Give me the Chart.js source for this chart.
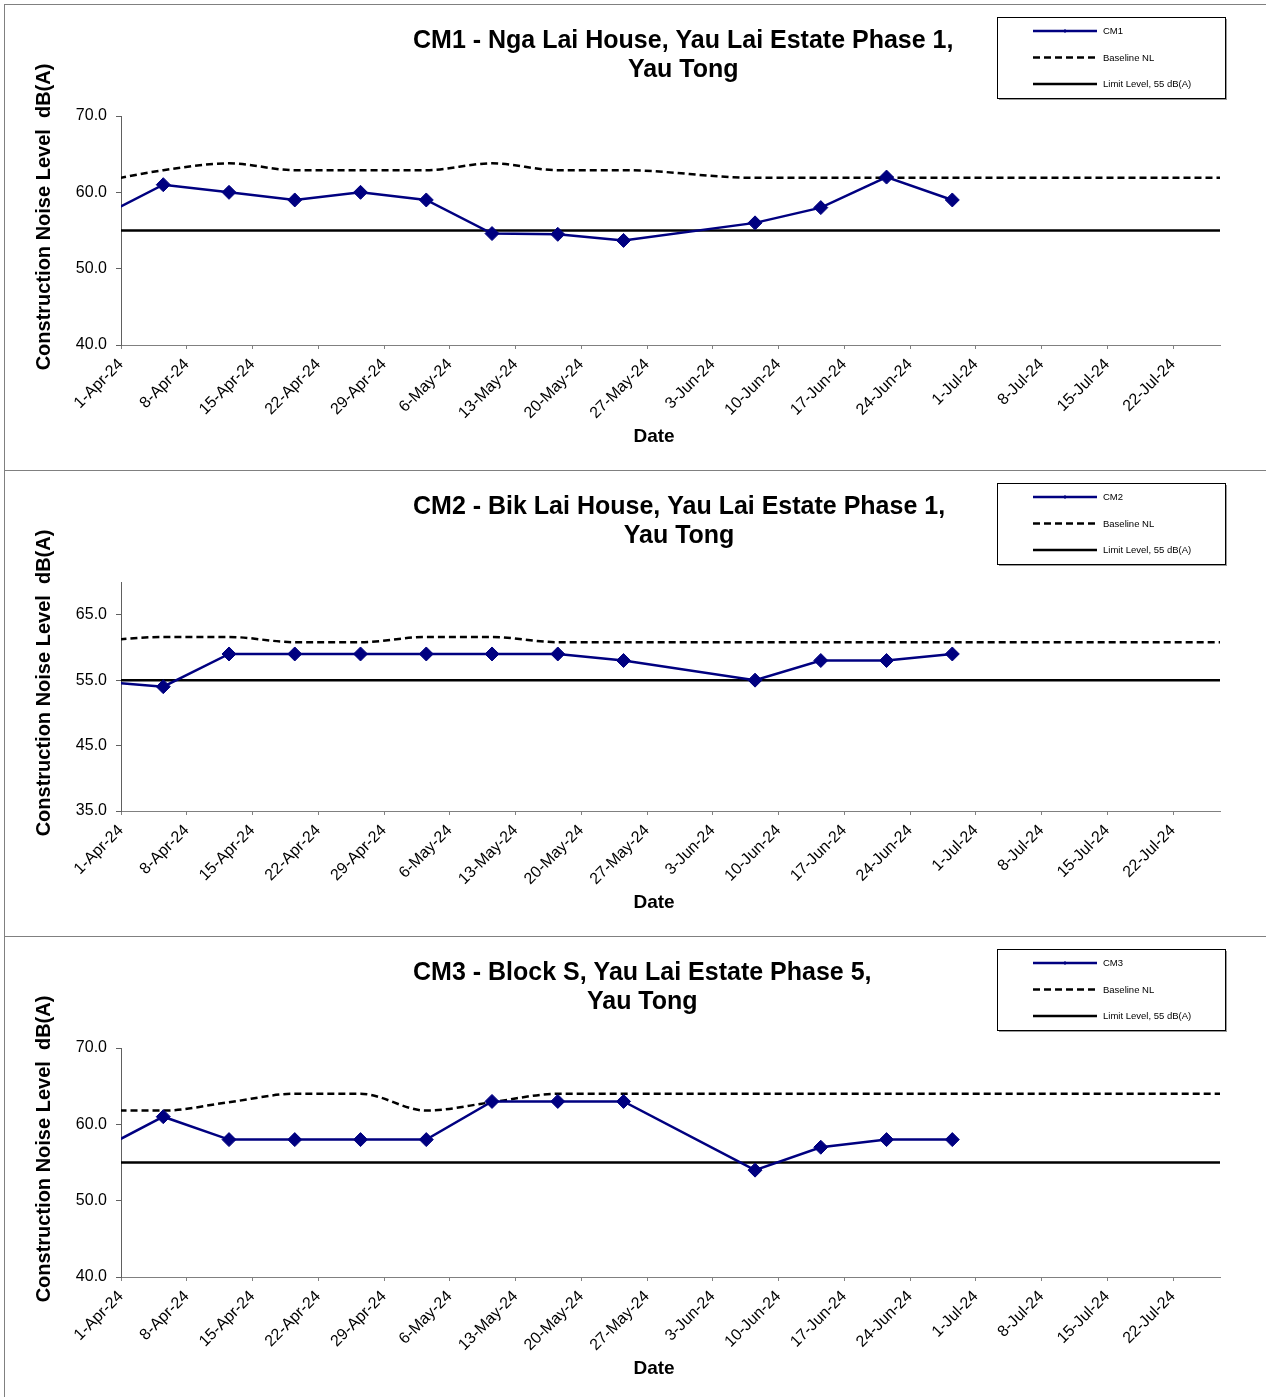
<!DOCTYPE html>
<html>
<head>
<meta charset="utf-8">
<script src="https://cdn.jsdelivr.net/npm/chart.js@4.4.1/dist/chart.umd.min.js"></script>
<style>
    body { margin: 0; background: #fff; }
    #wrap { position: absolute; left: 4px; top: 4px; width: 1262px; border-left: 1px solid #808080; }
    .panel { border-top: 1px solid #808080; height: 465px; }
    .panel canvas { display: block; }
</style>
</head>
<body>
<div id="wrap">
    <div class="panel"><canvas id="chartCM1" width="1261" height="465"></canvas></div>
    <div class="panel"><canvas id="chartCM2" width="1261" height="465"></canvas></div>
    <div class="panel"><canvas id="chartCM3" width="1261" height="465"></canvas></div>
</div>
<script>
// ---- data ----
const axisStart = '2024-04-01';
const axisEnd = '2024-07-27';

const tickLabels = ['1-Apr-24', '8-Apr-24', '15-Apr-24', '22-Apr-24', '29-Apr-24', '6-May-24',
    '13-May-24', '20-May-24', '27-May-24', '3-Jun-24', '10-Jun-24', '17-Jun-24', '24-Jun-24',
    '1-Jul-24', '8-Jul-24', '15-Jul-24', '22-Jul-24'];

const sampleDates = ['2024-03-29', '2024-04-05', '2024-04-12', '2024-04-19', '2024-04-26',
    '2024-05-03', '2024-05-10', '2024-05-17', '2024-05-24', '2024-05-31', '2024-06-07',
    '2024-06-14', '2024-06-21', '2024-06-28', '2024-07-05', '2024-07-12', '2024-07-19',
    '2024-07-26', '2024-08-02'];

const limitLevel = 55;

const cm1Level    = [56.6, 61.0, 60.0, 59.0, 60.0, 59.0, 54.6, 54.5, 53.7, null, 56.0, 58.0, 62.0, 59.0, null, null, null, null, null];
const cm1Baseline = [61.3, 62.9, 63.8, 62.9, 62.9, 62.9, 63.8, 62.9, 62.9, null, 61.9, 61.9, 61.9, 61.9, 61.9, 61.9, 61.9, 61.9, 61.9];

const cm2Level    = [54.8, 54.0, 59.0, 59.0, 59.0, 59.0, 59.0, 59.0, 58.0, null, 55.0, 58.0, 58.0, 59.0, null, null, null, null, null];
const cm2Baseline = [61.0, 61.6, 61.6, 60.8, 60.8, 61.6, 61.6, 60.8, 60.8, null, 60.8, 60.8, 60.8, 60.8, 60.8, 60.8, 60.8, 60.8, 60.8];

const cm3Level    = [56.5, 61.0, 58.0, 58.0, 58.0, 58.0, 63.0, 63.0, 63.0, null, 54.0, 57.0, 58.0, 58.0, null, null, null, null, null];
const cm3Baseline = [61.8, 61.8, 62.9, 64.0, 64.0, 61.8, 62.9, 64.0, 64.0, null, 64.0, 64.0, 64.0, 64.0, 64.0, 64.0, 64.0, 64.0, 64.0];

const yTicks1 = [40, 50, 60, 70];
const yTicks2 = [35, 45, 55, 65];
const yTicks3 = [40, 50, 60, 70];

const panels = [
    { id: 'chartCM1', name: 'CM1', title: ['CM1 - Nga Lai House, Yau Lai Estate Phase 1,', 'Yau Tong'],
      level: cm1Level, baseline: cm1Baseline, yMin: 40, yMax: 70, yTicks: yTicks1 },
    { id: 'chartCM2', name: 'CM2', title: ['CM2 - Bik Lai House, Yau Lai Estate Phase 1,', 'Yau Tong'],
      level: cm2Level, baseline: cm2Baseline, yMin: 35, yMax: 70, yTicks: yTicks2 },
    { id: 'chartCM3', name: 'CM3', title: ['CM3 - Block S, Yau Lai Estate Phase 5,', 'Yau Tong'],
      level: cm3Level, baseline: cm3Baseline, yMin: 40, yMax: 70, yTicks: yTicks3 }
];

const FONT = '"Liberation Sans", Arial, Helvetica, sans-serif';
const NAVY = '#000080';
const DAY = 86400000;
const MONTHS = { Jan: 0, Feb: 1, Mar: 2, Apr: 3, May: 4, Jun: 5, Jul: 6, Aug: 7, Sep: 8, Oct: 9, Nov: 10, Dec: 11 };

/**
 * Days from the axis start (date axis: each day is one bin)
 */
function dayOffset(iso) {
    return (Date.parse(iso + 'T00:00:00Z') - Date.parse(axisStart + 'T00:00:00Z')) / DAY;
}

function tickLabelDay(label) {
    const parts = label.split('-');
    const t = Date.UTC(2000 + Number(parts[2]), MONTHS[parts[1]], Number(parts[0]));
    return (t - Date.parse(axisStart + 'T00:00:00Z')) / DAY;
}

function toPoints(values) {
    // points sit in the middle of their day bin
    return sampleDates.map((d, i) => ({ x: dayOffset(d) + 0.5, y: values[i] }));
}

/**
 * Plugin: title block, axis titles and the boxed legend
 */
const decorPlugin = {
    id: 'decor',
    afterDraw(chart, args, opts) {
        const ctx = chart.ctx;
        ctx.save();
        ctx.fillStyle = '#000';

        // main title, lines centred inside a block with a fixed left edge
        ctx.font = 'bold 25px ' + FONT;
        ctx.textBaseline = 'middle';
        ctx.textAlign = 'center';
        const widths = opts.title.map(t => ctx.measureText(t).width);
        const blockW = Math.max(...widths);
        const blockCx = 408 + blockW / 2;
        opts.title.forEach((t, i) => ctx.fillText(t, blockCx, 36 + i * 29));

        // y title
        ctx.save();
        ctx.translate(39, 212);
        ctx.rotate(-Math.PI / 2);
        ctx.font = 'bold 20px ' + FONT;
        ctx.fillText('Construction Noise Level  dB(A)', 0, 0);
        ctx.restore();

        // x title
        ctx.font = 'bold 19px ' + FONT;
        ctx.fillText('Date', 649, 432);

        // legend box with a thin shadow
        const lx = 992, ly = 12, lw = 228, lh = 81;
        ctx.fillStyle = '#9a9a9a';
        ctx.fillRect(lx + 2, ly + lh, lw, 2);
        ctx.fillRect(lx + lw, ly + 2, 2, lh);
        ctx.fillStyle = '#fff';
        ctx.fillRect(lx, ly, lw, lh);
        ctx.strokeStyle = '#000';
        ctx.lineWidth = 1;
        ctx.strokeRect(lx + 0.5, ly + 0.5, lw, lh);

        ctx.font = '9.5px ' + FONT;
        ctx.textAlign = 'left';
        chart.data.datasets.forEach((ds, i) => {
            const y = 26 + i * 26.5;
            ctx.beginPath();
            ctx.strokeStyle = ds.borderColor;
            ctx.lineWidth = ds.borderWidth;
            ctx.setLineDash(ds.borderDash || []);
            ctx.moveTo(1028, y);
            ctx.lineTo(1092, y);
            ctx.stroke();
            ctx.setLineDash([]);
            if (ds.pointRadius > 0) {
                ctx.fillStyle = ds.pointBackgroundColor;
                ctx.beginPath();
                ctx.moveTo(1060 - 2, y);
                ctx.lineTo(1060, y - 2);
                ctx.lineTo(1060 + 2, y);
                ctx.lineTo(1060, y + 2);
                ctx.closePath();
                ctx.fill();
            }
            ctx.fillStyle = '#000';
            ctx.fillText(ds.label, 1098, y + 0.5);
        });
        ctx.restore();
    }
};

function buildChart(p) {
    const xTicks = tickLabels.map(tickLabelDay);
    const limitValues = sampleDates.map(() => limitLevel);

    return new Chart(document.getElementById(p.id), {
        type: 'line',
        data: {
            datasets: [
                {
                    label: p.name,
                    data: toPoints(p.level),
                    borderColor: NAVY,
                    borderWidth: 2.5,
                    pointStyle: 'rectRot',
                    pointRadius: 7,
                    pointBackgroundColor: NAVY,
                    pointBorderColor: NAVY,
                    pointBorderWidth: 1,
                    spanGaps: true,
                    tension: 0
                },
                {
                    label: 'Baseline NL',
                    data: toPoints(p.baseline),
                    borderColor: '#000',
                    borderWidth: 2.5,
                    borderDash: [7, 4],
                    pointRadius: 0,
                    spanGaps: true,
                    cubicInterpolationMode: 'monotone'
                },
                {
                    label: 'Limit Level, 55 dB(A)',
                    data: toPoints(limitValues),
                    borderColor: '#000',
                    borderWidth: 2.5,
                    pointRadius: 0
                }
            ]
        },
        options: {
            responsive: false,
            animation: false,
            events: [],
            layout: { padding: { top: 111, right: 46, left: 0, bottom: 0 } },
            plugins: {
                legend: { display: false },
                title: { display: false },
                tooltip: { enabled: false },
                decor: { title: p.title }
            },
            scales: {
                x: {
                    type: 'linear',
                    min: 0,
                    max: dayOffset(axisEnd),
                    afterBuildTicks: axis => { axis.ticks = xTicks.map(v => ({ value: v })); },
                    afterFit: axis => { axis.height = 125; },
                    grid: { drawOnChartArea: false, drawTicks: true, tickLength: 4, color: '#808080' },
                    border: { color: '#808080', width: 1 },
                    ticks: {
                        autoSkip: false,
                        minRotation: 45,
                        maxRotation: 45,
                        padding: 6,
                        color: '#000',
                        font: { family: FONT, size: 16 },
                        callback: (v, i) => tickLabels[i]
                    }
                },
                y: {
                    min: p.yMin,
                    max: p.yMax,
                    afterBuildTicks: axis => { axis.ticks = p.yTicks.map(v => ({ value: v })); },
                    afterFit: axis => { axis.width = 116; },
                    grid: { drawOnChartArea: false, drawTicks: true, tickLength: 5, color: '#606060' },
                    border: { color: '#606060', width: 1 },
                    ticks: {
                        padding: 9,
                        color: '#000',
                        font: { family: FONT, size: 16 },
                        callback: v => Number(v).toFixed(1)
                    }
                }
            }
        },
        plugins: [decorPlugin]
    });
}

document.addEventListener('DOMContentLoaded', function() {
    panels.forEach(buildChart);
});
</script>
</body>
</html>
